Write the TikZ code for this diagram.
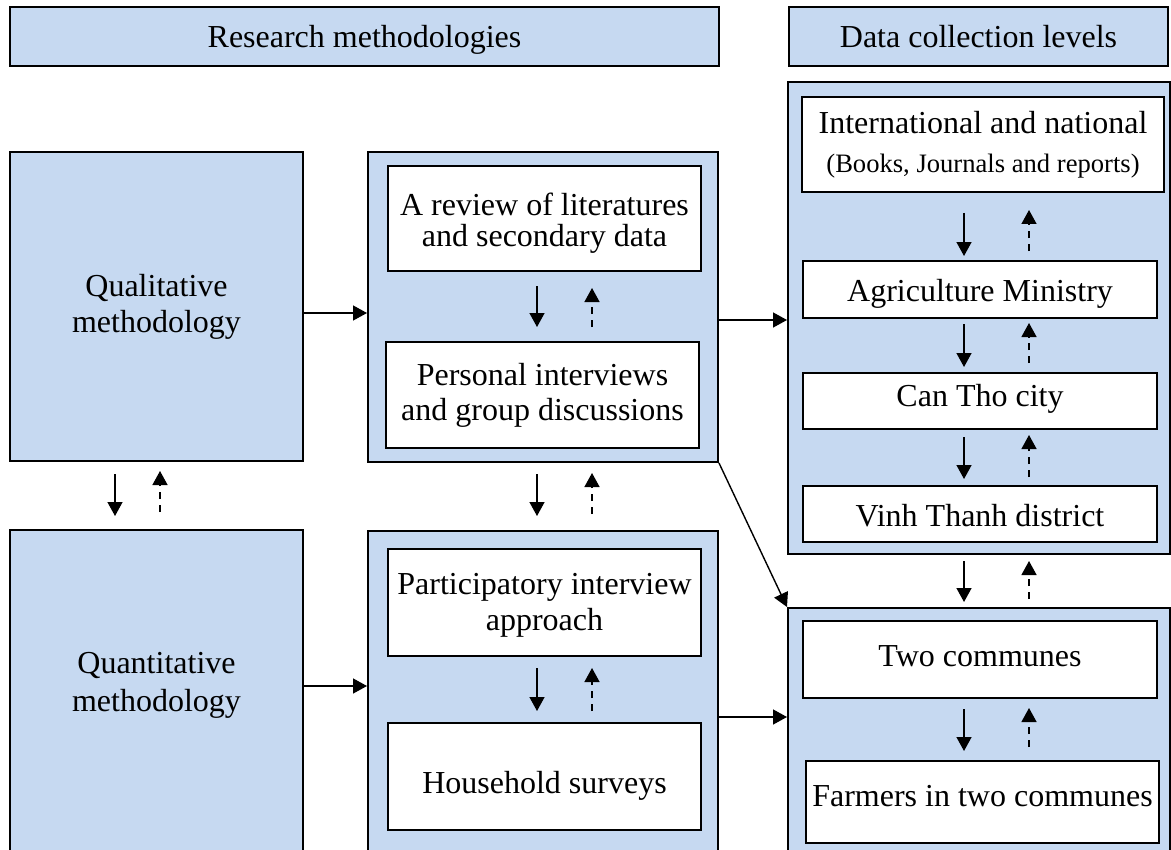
\documentclass[tikz,border=0pt]{standalone}
\usepackage{fontspec}
\setmainfont{Liberation Serif}
\usetikzlibrary{arrows.meta}
\definecolor{panelblue}{HTML}{C6D9F1}
\tikzset{
  % a rectangle spanning the corners (#1,#2) and (#3,#4)
  span/.style n args={4}{rectangle, inner sep=0pt,
    at={({(#1+#3)/2},{(#2+#4)/2})},
    minimum width={(#3-#1)*0.5pt}, minimum height={(#4-#2)*0.5pt}},
  % fixes the text height and depth so that the baseline sits #1 below the centre
  nudge/.style={
    execute at begin node={\rule{0pt}{\dimexpr12pt+#1\relax}},
    execute at end node={\rule[\dimexpr-12pt+#1\relax]{0pt}{0pt}}},
  lead/.style={font=\fontsize{16}{#1}\selectfont},
  panel/.style={draw=black, line width=1pt, fill=panelblue,
    align=center, lead=18pt},
  item/.style={draw=black, line width=1pt, fill=white,
    align=center, lead=18pt},
  caption/.style={inner sep=0pt, align=center, lead=19pt},
  flow/.style={line width=0.7pt, -{Triangle[width=7.5pt,length=7pt]}},
  backflow/.style={flow, dash pattern=on 3.5pt off 3pt},
}
% two centred lines whose middle baseline sits #1 below the node centre
\newcommand\twolines[3]{%
  \rule{0pt}{\dimexpr12pt+#1\relax}#2\\#3\rule[\dimexpr-12pt+#1\relax]{0pt}{0pt}}
% solid downward arrow and dashed upward arrow between two stacked boxes
% #1 upper box, #2 lower box, #3/#4 x positions, #5/#6 solid gaps, #7/#8 dashed gaps
\newcommand\linkpair[8]{%
  \draw[flow, shorten <=#5, shorten >=#6] (#1.south -| #3) -- (#2.north -| #3);
  \draw[backflow, shorten <=#8, shorten >=#7] (#2.north -| #4) -- (#1.south -| #4);
}

\begin{document}
\begin{tikzpicture}[x=0.5pt,y=-0.5pt]
\useasboundingbox (0,0) rectangle (1171,850);
\fill[white] (0,0) rectangle (1171,850);
\clip (0,0) rectangle (1171,850);

% column x positions for the arrow pairs
\coordinate (xa) at (115,0);
\coordinate (xb) at (160,0);
\coordinate (xc) at (537,0);
\coordinate (xd) at (592,0);
\coordinate (xe) at (964,0);
\coordinate (xf) at (1029,0);
% heights of the horizontal connectors
\coordinate (ya) at (0,313);
\coordinate (yb) at (0,320);
\coordinate (yc) at (0,686);
\coordinate (yd) at (0,717);

% headers
\node[panel, nudge=5.75pt, span={10}{7}{719}{66}] (hmeth) {Research methodologies};
\node[panel, nudge=5.75pt, span={789}{7}{1168}{66}] (hdata) {Data collection levels};

% methodology column
\node[panel, span={10}{152}{303}{461}] (qual)
  {\twolines{3.75pt}{Qualitative}{methodology}};
\node[panel, span={10}{530}{303}{880}] (quant) {};
\node[caption] (quantlabel) at (156.5,686)
  {\twolines{3pt}{Quantitative}{methodology}};

% methods column
\node[panel, span={368}{152}{718}{462}] (mt) {};
\node[item, lead=15.5pt, span={388}{166}{701}{271}] (review)
  {\twolines{6pt}{A review of literatures}{and secondary data}};
\node[item, lead=17.5pt, span={386}{342}{699}{448}] (personal)
  {\twolines{3.75pt}{Personal interviews}{and group discussions}};

\node[panel, span={368}{531}{718}{880}] (mb) {};
\node[item, span={388}{549}{701}{656}] (particip)
  {\twolines{4.75pt}{Participatory interview}{approach}};
\node[item, nudge=8.25pt, span={388}{723}{701}{830}] (household) {Household surveys};

% data collection levels
\node[panel, span={788}{82}{1170}{554}] (rt) {};
\node[item, lead=19.5pt, span={802}{97}{1164}{192}] (intl)
  {\twolines{4.5pt}{International and national}%
    {{\fontsize{13.3}{15}\selectfont(Books, Journals and reports)}}};
\node[item, nudge=5.75pt, span={803}{261}{1157}{318}] (agri) {Agriculture Ministry};
\node[item, nudge=2.5pt, span={803}{373}{1157}{429}] (canttho) {Can Tho city};
\node[item, nudge=6.3pt, span={803}{486}{1157}{542}] (vinh) {Vinh Thanh district};

\node[panel, span={788}{608}{1170}{880}] (rb) {};
\node[item, nudge=3.25pt, span={803}{621}{1157}{698}] (two) {Two communes};
\node[item, nudge=2pt, span={806}{761}{1159}{843}] (farmers) {Farmers in two communes};

% horizontal connectors
\draw[flow] (qual.east |- ya) -- (mt.west |- ya);
\draw[flow] (mt.east |- yb) -- (rt.west |- yb);
\draw[flow] (quant.east |- yc) -- (mb.west |- yc);
\draw[flow] (mb.east |- yd) -- (rb.west |- yd);
\draw[flow] (mt.south east) -- (rb.north west);

% vertical arrow pairs
\linkpair{qual}{quant}{xa}{xb}{6pt}{6.5pt}{4.5pt}{8.5pt}
\linkpair{mt}{mb}{xc}{xd}{5.5pt}{7pt}{5pt}{8pt}
\linkpair{review}{personal}{xc}{xd}{7pt}{7pt}{8pt}{7pt}
\linkpair{particip}{household}{xc}{xd}{5.5pt}{5.5pt}{5.5pt}{5.5pt}
\linkpair{intl}{agri}{xe}{xf}{10pt}{2pt}{8.5pt}{4.5pt}
\linkpair{agri}{canttho}{xe}{xf}{2.5pt}{2.5pt}{2pt}{4.5pt}
\linkpair{canttho}{vinh}{xe}{xf}{3.5pt}{3pt}{2.5pt}{4pt}
\linkpair{rt}{rb}{xe}{xf}{3pt}{2.5pt}{3pt}{4pt}
\linkpair{two}{farmers}{xe}{xf}{5pt}{4.5pt}{4.5pt}{6.5pt}
\end{tikzpicture}
\end{document}
